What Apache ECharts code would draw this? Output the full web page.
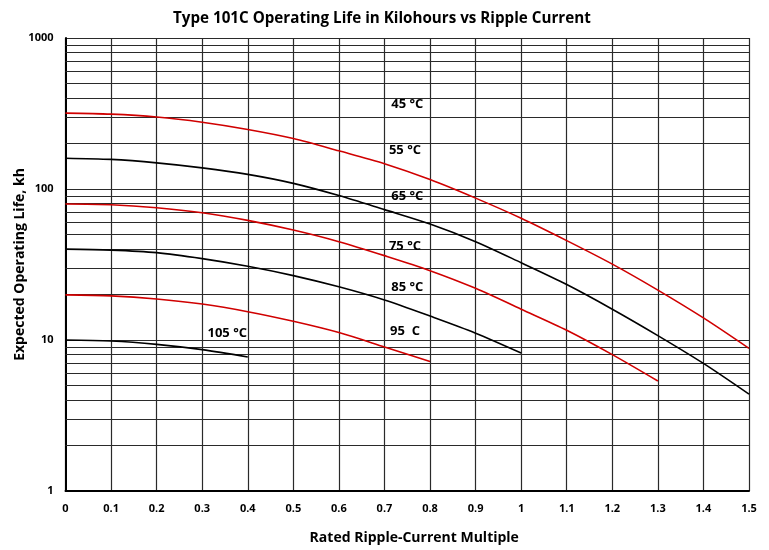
<!DOCTYPE html>
<html>
<head>
<meta charset="utf-8">
<script src="https://cdn.jsdelivr.net/npm/echarts@6/dist/echarts.min.js"></script>
<style>
html,body{margin:0;padding:0;background:#fff;}
#chart{width:769px;height:550px;}
</style>
</head>
<body>
<div id="chart"></div>
<script>
var xValues = [0, 0.1, 0.2, 0.3, 0.4, 0.5, 0.6, 0.7, 0.8, 0.9, 1.0, 1.1, 1.2, 1.3, 1.4, 1.5];
var life45 = [318, 313, 300, 277, 248, 216, 179, 147, 115.5, 87, 64, 45.5, 31.8, 21.4, 14, 8.8];
var life55 = [160, 157, 149, 138, 125, 109, 90.5, 73, 58.6, 44.8, 32.5, 23.3, 16, 10.7, 7.0, 4.38];
var life65 = [79.6, 78.7, 75.2, 69.7, 62, 53.5, 44.8, 36.2, 28.8, 22, 16, 11.6, 8.0, 5.35];
var life75 = [40, 39.4, 37.9, 34.6, 30.8, 26.7, 22.5, 18.4, 14.4, 11.1, 8.2];
var life85 = [19.9, 19.6, 18.7, 17.3, 15.4, 13.3, 11.2, 9.0, 7.2];
var life105 = [10, 9.85, 9.36, 8.63, 7.72];

var curveNames = ['45 °C', '55 °C', '65 °C', '75 °C', '85 °C', '105 °C'];
var curveColors = ['#d00000', '#000000', '#d00000', '#000000', '#d00000', '#000000'];

var labelTexts = ['45 °C', '55 °C', '65 °C', '75 °C', '85 °C', '95  C', '105 °C'];
var labelX = [0.75, 0.745, 0.75, 0.745, 0.75, 0.745, 0.355];
var labelY = [366, 181, 89, 41.5, 22.5, 11.5, 11.1];

var minorGridValues = [2,3,4,5,6,7,8,9,20,30,40,50,60,70,80,90,200,300,400,500,600,700,800,900];

var FONT = '"Open Sans", "DejaVu Sans", sans-serif';
var gridColor = '#2a2a2a';

function pairs(vals) {
  return vals.map(function (v, i) { return [xValues[i], v]; });
}

var curves = [life45, life55, life65, life75, life85, life105];
var series = curves.map(function (vals, i) {
  return {
    name: curveNames[i],
    type: 'line',
    data: pairs(vals),
    smooth: 0.3,
    showSymbol: false,
    symbol: 'none',
    z: 5,
    lineStyle: { color: curveColors[i], width: 1.6 },
    animation: false
  };
});

series.push({
  type: 'line',
  data: [],
  silent: true,
  animation: false,
  markLine: {
    silent: true,
    symbol: ['none', 'none'],
    label: { show: false },
    animation: false,
    lineStyle: { color: gridColor, width: 1.2, type: 'solid' },
    data: minorGridValues.map(function (v) { return { yAxis: v }; })
  }
});

series.push({
  type: 'scatter',
  symbolSize: 0,
  silent: true,
  animation: false,
  z: 10,
  itemStyle: { opacity: 1 },
  data: labelTexts.map(function (t, i) { return [labelX[i], labelY[i], t]; }),
  label: {
    show: true,
    position: 'inside',
    formatter: function (p) { return p.data[2]; },
    color: '#000',
    opacity: 1,
    fontFamily: FONT,
    fontWeight: 'bold',
    fontSize: 13
  }
});

var chart = echarts.init(document.getElementById('chart'));
chart.setOption({
  backgroundColor: '#fff',
  animation: false,
  title: {
    text: 'Type 101C Operating Life in Kilohours vs Ripple Current',
    left: 168,
    top: 6,
    textStyle: { fontFamily: FONT, fontWeight: 'bold', fontSize: 15.2, color: '#000' }
  },
  grid: { left: 65.5, right: 20, top: 38, bottom: 59, outerBoundsMode: 'none', containLabel: false },
  xAxis: {
    type: 'value',
    min: 0,
    max: 1.5,
    interval: 0.1,
    name: 'Rated Ripple-Current Multiple',
    nameLocation: 'middle',
    nameGap: 40,
    nameMoveOverlap: false,
    nameTextStyle: { fontFamily: FONT, fontWeight: 'bold', fontSize: 14, color: '#000', padding: [0, 0, 0, 14] },
    axisLine: { show: true, lineStyle: { color: '#000', width: 2 } },
    axisTick: { show: false },
    axisLabel: {
      margin: 12,
      fontFamily: FONT, fontWeight: 'bold', fontSize: 11, color: '#000',
      formatter: function (v) { return String(Math.round(v * 10) / 10); }
    },
    splitLine: { show: true, lineStyle: { color: gridColor, width: 1.2 } }
  },
  yAxis: {
    type: 'log',
    logBase: 10,
    min: 1,
    max: 1000,
    name: 'Expected Operating Life, kh',
    nameLocation: 'middle',
    nameGap: 38,
    nameRotate: 90,
    nameMoveOverlap: false,
    nameTextStyle: { fontFamily: FONT, fontWeight: 'bold', fontSize: 14, color: '#000' },
    axisLine: { show: true, lineStyle: { color: '#000', width: 2 } },
    axisTick: { show: false },
    axisLabel: {
      margin: 12, fontFamily: FONT, fontWeight: 'bold', fontSize: 11, color: '#000',
      formatter: function (v) { return String(Math.round(v)); }
    },
    splitLine: { show: true, lineStyle: { color: gridColor, width: 1.2 } }
  },
  series: series
});
</script>
</body>
</html>
